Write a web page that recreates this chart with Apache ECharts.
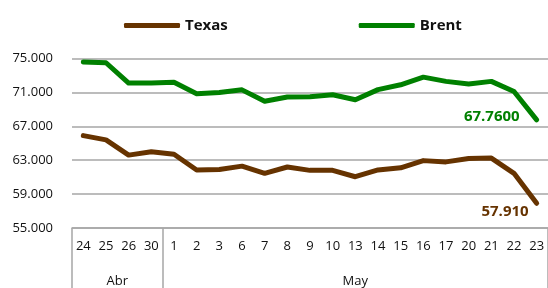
<!DOCTYPE html>
<html><head><meta charset="utf-8">
<script src="https://cdn.jsdelivr.net/npm/echarts@6/dist/echarts.min.js"></script>
<style>html,body{margin:0;padding:0;background:#fff}#c{width:548px;height:288px}</style>
</head><body><div id="c"></div>
<script>
const days = ['24','25','26','30','1','2','3','6','7','8','9','10','13','14','15','16','17','20','21','22','23'];
const months = ['Abr','May'];
const monthCounts = [4,17];
const texas = [65.9,65.4,63.6,64.0,63.7,61.85,61.9,62.3,61.45,62.2,61.8,61.8,61.05,61.85,62.1,62.95,62.8,63.2,63.25,61.45,57.91];
const brent = [74.6,74.5,72.1,72.1,72.2,70.85,71.0,71.3,69.95,70.46,70.5,70.73,70.14,71.33,71.9,72.8,72.3,72.0,72.3,71.1,67.76];
const yTicks = [55,59,63,67,71,75];

// half-band slots for the month (group) axis
const nSlots = days.length * 2 + 1;
const groupSlots = new Array(nSlots).fill('');
const boundarySlots = new Set([0]);
let start = 0;
months.forEach((m, i) => {
  groupSlots[2 * start + monthCounts[i]] = m;
  start += monthCounts[i];
  boundarySlots.add(2 * start);
});

const FONT = 'Open Sans';
const BROWN = '#663300', GREEN = '#008000';

function lastLabel(arr, color, digits, dist, off) {
  return arr.map((v, i) => i === arr.length - 1 ? {
    value: v,
    label: {show: true, position: 'left', distance: dist, offset: off,
      formatter: () => v.toFixed(digits), color: color,
      fontFamily: FONT, fontWeight: 'bold', fontSize: 15}
  } : v);
}

const chart = echarts.init(document.getElementById('c'), null, {renderer: 'canvas'});
chart.setOption({
  animation: false,
  backgroundColor: '#fff',
  textStyle: {fontFamily: FONT},
  legend: {
    data: ['Texas', 'Brent'], left: 119, top: 13,
    icon: 'roundRect', itemWidth: 56, itemHeight: 5, itemGap: 131,
    textStyle: {fontFamily: FONT, fontWeight: 'bold', fontSize: 15, color: '#111'}
  },
  grid: {left: 72, right: -3, top: 58.5, bottom: 60, containLabel: false},
  xAxis: [{
    type: 'category', data: days, boundaryGap: true, position: 'bottom',
    axisLine: {show: true, lineStyle: {color: '#a6a6a6', width: 1.5}},
    axisTick: {show: false},
    axisLabel: {interval: 0, margin: 12, fontFamily: FONT, fontSize: 13, color: '#111'}
  }, {
    type: 'category', data: groupSlots, boundaryGap: false, position: 'bottom',
    axisLine: {show: false},
    axisTick: {show: true, length: 62, interval: (i) => boundarySlots.has(i),
      lineStyle: {color: '#a6a6a6', width: 1.5}},
    axisLabel: {interval: (i, v) => v !== '', margin: 47, fontFamily: FONT, fontSize: 13, color: '#111'}
  }],
  yAxis: {
    type: 'value', min: 55, max: 75, interval: 4,
    axisLine: {show: false},
    axisTick: {show: false, customValues: yTicks},
    axisLabel: {customValues: yTicks, margin: 19, fontFamily: FONT, fontSize: 13, color: '#111',
      formatter: (v) => v.toFixed(3)},
    splitLine: {show: true, lineStyle: {color: '#a6a6a6', width: 1.5}}
  },
  series: [{
    name: 'Texas', type: 'line', data: lastLabel(texas, BROWN, 3, 8, [0, 8.5]),
    symbol: 'circle', symbolSize: 0.1, showSymbol: true, showAllSymbol: true,
    itemStyle: {color: BROWN},
    lineStyle: {color: BROWN, width: 5, cap: 'round', join: 'round'}
  }, {
    name: 'Brent', type: 'line', data: lastLabel(brent, GREEN, 4, 17, [0, -3.5]),
    symbol: 'circle', symbolSize: 0.1, showSymbol: true, showAllSymbol: true,
    itemStyle: {color: GREEN},
    lineStyle: {color: GREEN, width: 5, cap: 'round', join: 'round'}
  }]
});
</script></body></html>
